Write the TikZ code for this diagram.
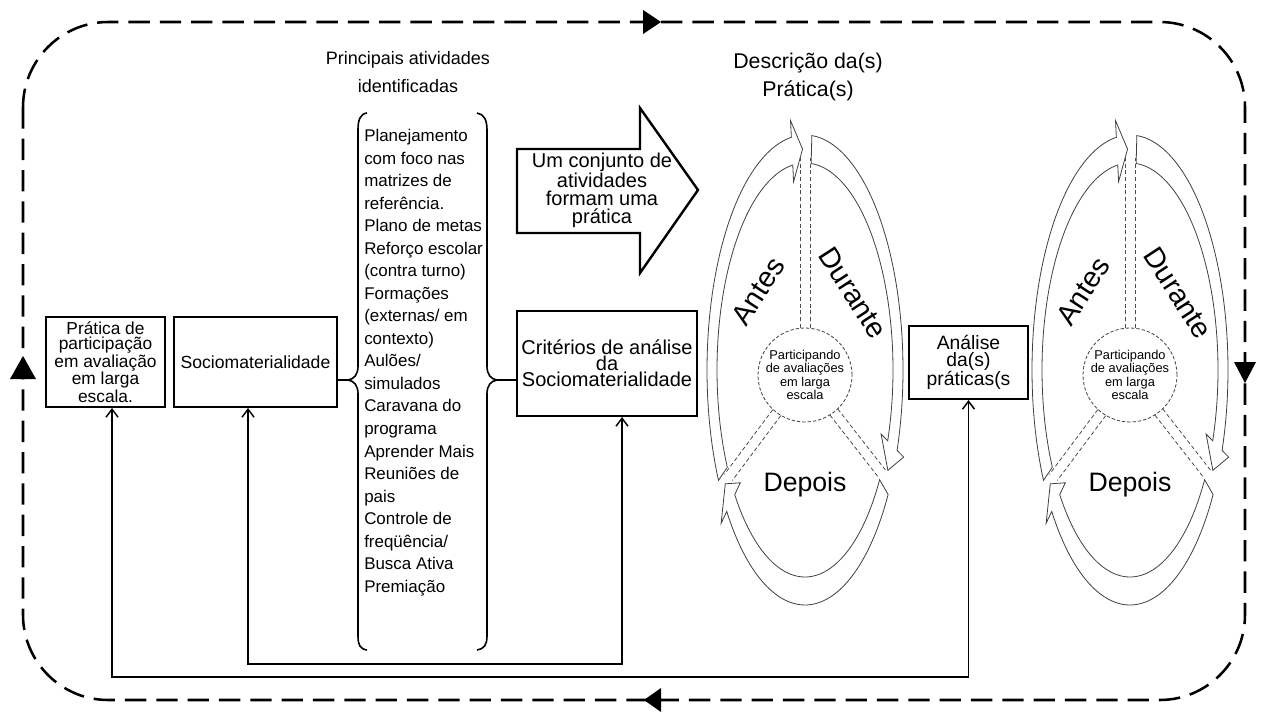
\documentclass[tikz,border=0pt]{standalone}
\usepackage{fontspec}
\setmainfont{Liberation Sans}
\usetikzlibrary{arrows.meta,calc}

\newcommand{\cyclediag}[1]{%
  % head / tail coordinates on the outer (o) and inner (i) ellipses
  \coordinate (#1ao) at ({805+98*cos(98)},{370-235*sin(98)});
  \coordinate (#1ai) at ({805+88*cos(98)},{370-207*sin(98)});
  \coordinate (#1at) at ({805+93*cos(91.5)},{370-221*sin(91.5)});
  \coordinate (#1do) at ({805+98*cos(-20)},{370-235*sin(-20)});
  \coordinate (#1di) at ({805+88*cos(-20)},{370-207*sin(-20)});
  \coordinate (#1dt) at ({805+93*cos(-27)},{370-221*sin(-27)});
  \coordinate (#1po) at ({805+98*cos(-143)},{370-235*sin(-143)});
  \coordinate (#1pi) at ({805+88*cos(-143)},{370-207*sin(-143)});
  \coordinate (#1pt) at ({805+93*cos(-149)},{370-221*sin(-149)});
  % centre circle
  \node[hub] (#1c) at (805,375) {Participando\\de avaliações\\em larga\\escala};
  % dashed double connections
  \draw[dline] ([xshift=-3.75pt]#1c.north) -- ++(0,-170);
  \draw[dline] ([xshift=3.75pt]#1c.north) -- ++(0,-170);
  \draw[dline] (780.8,415.6) -- (732.3,480.5);
  \draw[dline] (772.8,409.6) -- (724.3,474.5);
  \draw[dline] (837.8,409.0) -- (885.8,470.5);
  \draw[dline] (830.0,415.2) -- (878.0,476.7);
  % Antes arrow
  \draw[band] plot[domain=208:98] ({805+98*cos(\x)},{370-235*sin(\x)})
     -- ($(#1ao)!-0.6!(#1ai)$) -- (#1at) -- ($(#1ai)!-0.6!(#1ao)$)
     -- plot[domain=98:208] ({805+88*cos(\x)},{370-207*sin(\x)}) -- cycle;
  % Durante arrow
  \draw[band] plot[domain=86:-20] ({805+98*cos(\x)},{370-235*sin(\x)})
     -- ($(#1do)!-0.7!(#1di)$) -- (#1dt) -- ($(#1di)!-0.7!(#1do)$)
     -- plot[domain=-20:86] ({805+88*cos(\x)},{370-207*sin(\x)}) -- cycle;
  % Depois arrow
  \draw[band] plot[domain=-32:-143] ({805+98*cos(\x)},{370-235*sin(\x)})
     -- ($(#1po)!-0.7!(#1pi)$) -- (#1pt) -- ($(#1pi)!-0.7!(#1po)$)
     -- plot[domain=-143:-32] ({805+88*cos(\x)},{370-207*sin(\x)}) -- cycle;
  % labels
  \node[cyclab,rotate=57] (#1antes) at (758,291) {Antes};
  \node[cyclab,rotate=-57] (#1durante) at (853,293) {Durante};
  \node[cyclab,font=\fontsize{20}{24}\selectfont] (#1depois) at (805,485) {Depois};
}

\begin{document}
\begin{tikzpicture}[x=0.75pt,y=-0.75pt,
  box/.style={draw,line width=1.5pt,inner sep=0pt,align=center},
  band/.style={draw=black!75,line width=0.6pt,fill=white},
  dline/.style={draw=black!70,line width=0.6pt,dash pattern=on 3pt off 2pt},
  hub/.style={circle,draw=black!75,line width=0.6pt,dash pattern=on 2.5pt off 1.5pt,
     fill=white,minimum size=70.5pt,inner sep=0pt,align=center,
     font=\fontsize{9.6}{7.9}\selectfont},
  cyclab/.style={inner sep=0pt,font=\fontsize{21.5}{24}\selectfont},
  conn/.style={line width=1.1pt,
     {Straight Barb[length=6pt,width=9pt]}-{Straight Barb[length=6pt,width=9pt]}},
  frame/.style={line width=1.9pt,dash pattern=on 16pt off 7.5pt},
  brace/.style={line width=1.2pt}
]
\useasboundingbox (0,0) rectangle (1261,714);
\tikzset{every plot/.style={samples=60}}

% outer dashed frame
\draw[frame,rounded corners=64pt] (23,22) rectangle (1245,700);
\fill (643,10) -- (661,22) -- (643,34) -- cycle;
\fill (661,688) -- (644,700) -- (661,712) -- cycle;
\fill (10,379) -- (23,356) -- (36,379) -- cycle;
\fill (1234,362) -- (1256,362) -- (1245,383) -- cycle;

% titles
\node[align=center,font=\fontsize{13.5}{21}\selectfont] (t1) at (408,72)
  {Principais atividades\\identificadas};
\node[align=center,font=\fontsize{16}{21}\selectfont] (t2) at (808,77)
  {Descrição da(s)\\Prática(s)};

% boxes
\node[box,minimum width=89.25pt,minimum height=67.5pt,
  font=\fontsize{13}{11.25}\selectfont] (b1) at (105.5,362)
  {Prática de\\participação\\em avaliação\\em larga\\escala.};
\node[box,minimum width=122.25pt,minimum height=67.5pt,
  font=\fontsize{13.2}{15}\selectfont] (b2) at (255.5,362) {Sociomaterialidade};
\node[box,minimum width=135pt,minimum height=78.75pt,
  font=\fontsize{15}{12}\selectfont] (crit) at (607,363.5)
  {Critérios de análise\\da\\Sociomaterialidade};
\node[box,minimum width=89.25pt,minimum height=54.75pt,
  font=\fontsize{14.5}{12.75}\selectfont] (anal) at (968.5,362.5)
  {Análise\\da(s)\\práticas(s};

% activities list
\node[anchor=north west,align=left,inner sep=0pt,
  font=\fontsize{12.7}{16.9}\selectfont] (acts) at (364,129)
  {Planejamento\\com foco nas\\matrizes de\\referência.\\Plano de metas\\Reforço escolar\\(contra turno)\\Formações\\(externas/ em\\contexto)\\Aulões/\\simulados\\Caravana do\\programa\\Aprender Mais\\Reuniões de\\pais\\Controle de\\freqüência/\\Busca Ativa\\Premiação};

% braces
\coordinate (lbt) at (348,380);
\coordinate (rbt) at (497,380);
\draw[brace] (367,113) .. controls (360,114) and (358,120) .. (358,130)
  -- (358,366) .. controls (358,375) and (354,379) .. (lbt)
  .. controls (354,381) and (358,385) .. (358,394)
  -- (358,636) .. controls (358,645) and (360,649) .. (367,650);
\draw[brace] (477,113) .. controls (484,114) and (487,120) .. (487,130)
  -- (487,366) .. controls (487,375) and (491,379) .. (rbt)
  .. controls (491,381) and (487,385) .. (487,394)
  -- (487,636) .. controls (487,645) and (484,649) .. (477,650);
\draw[brace] (b2.east |- lbt) -- (lbt);
\draw[brace] (rbt) -- (crit.west |- rbt);

% big arrow
\draw[line width=1.8pt,line join=miter] (517,149) -- (640,149) -- (640,108) -- (698,190)
  -- (640,273) -- (640,233) -- (517,233) -- cycle;
\node[align=center,font=\fontsize{15}{13.5}\selectfont] (arrtxt) at (602,190)
  {Um conjunto de\\atividades\\formam uma\\prática};

% cycles
\cyclediag{p}
\begin{scope}[shift={(325,0)}]
\cyclediag{q}
\end{scope}

% bottom connectors
\draw[conn] ([xshift=4.9pt]b1.south) -- ++(0,269) -| (anal.south);
\draw[conn] ([xshift=-5.6pt]b2.south) -- ++(0,256) -| ([xshift=11.25pt]crit.south);
\end{tikzpicture}
\end{document}
